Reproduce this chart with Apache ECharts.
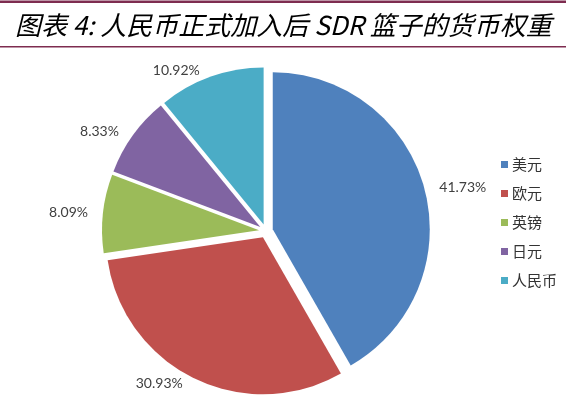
<!DOCTYPE html>
<html><head><meta charset="utf-8">
<script src="https://cdn.jsdelivr.net/npm/echarts@6/dist/echarts.min.js"></script>
<style>html,body{margin:0;padding:0;background:#fff}#c{width:566px;height:412px}</style>
</head><body><div id="c"></div>
<script>
const titleText = '图表 4: 人民币正式加入后 SDR 篮子的货币权重';
const categories = ['美元', '欧元', '英镑', '日元', '人民币'];
const values = [41.73, 30.93, 8.09, 8.33, 10.92];
const colors = ['#4F81BD', '#C0504D', '#9BBB59', '#8064A2', '#4BACC6'];
const ruleColor = '#7E2C50';

const chart = echarts.init(document.getElementById('c'), null, {renderer: 'canvas'});
chart.setOption({
  animation: false,
  backgroundColor: '#fff',
  color: colors,
  title: {
    text: titleText,
    left: 15, top: 10,
    padding: 0,
    textStyle: {fontFamily: 'Noto Sans CJK SC', fontSize: 26, lineHeight: 30, fontWeight: 'normal', fontStyle: 'italic', color: '#000'}
  },
  graphic: [
    {type: 'rect', left: 0, top: 0.5, z: 100, shape: {width: 566, height: 2.5}, style: {fill: ruleColor}},
    {type: 'rect', left: 0, top: 46, z: 100, shape: {width: 566, height: 1.5}, style: {fill: ruleColor}}
  ],
  legend: {
    orient: 'vertical',
    left: 496, top: 152,
    itemWidth: 7, itemHeight: 7, itemGap: 14,
    icon: 'rect',
    textStyle: {fontFamily: 'Noto Sans CJK SC', fontSize: 15, color: '#333', padding: [0, 0, 0, -1]},
    data: categories
  },
  series: [{
    type: 'pie',
    center: [266, 231],
    radius: 157,
    startAngle: 90,
    clockwise: true,
    selectedMode: 'multiple',
    selectedOffset: 7,
    silent: true,
    itemStyle: {borderWidth: 0},
    label: {
      show: true, position: 'outside',
      formatter: p => p.value.toFixed(2) + '%',
      fontFamily: 'Lato', fontSize: 14, color: '#404040'
    },
    labelLine: {show: false, length: 6, length2: 4},
    select: {itemStyle: {borderWidth: 0}},
    data: categories.map((n, i) => ({name: n, value: values[i], selected: true}))
  }]
});
</script></body></html>
